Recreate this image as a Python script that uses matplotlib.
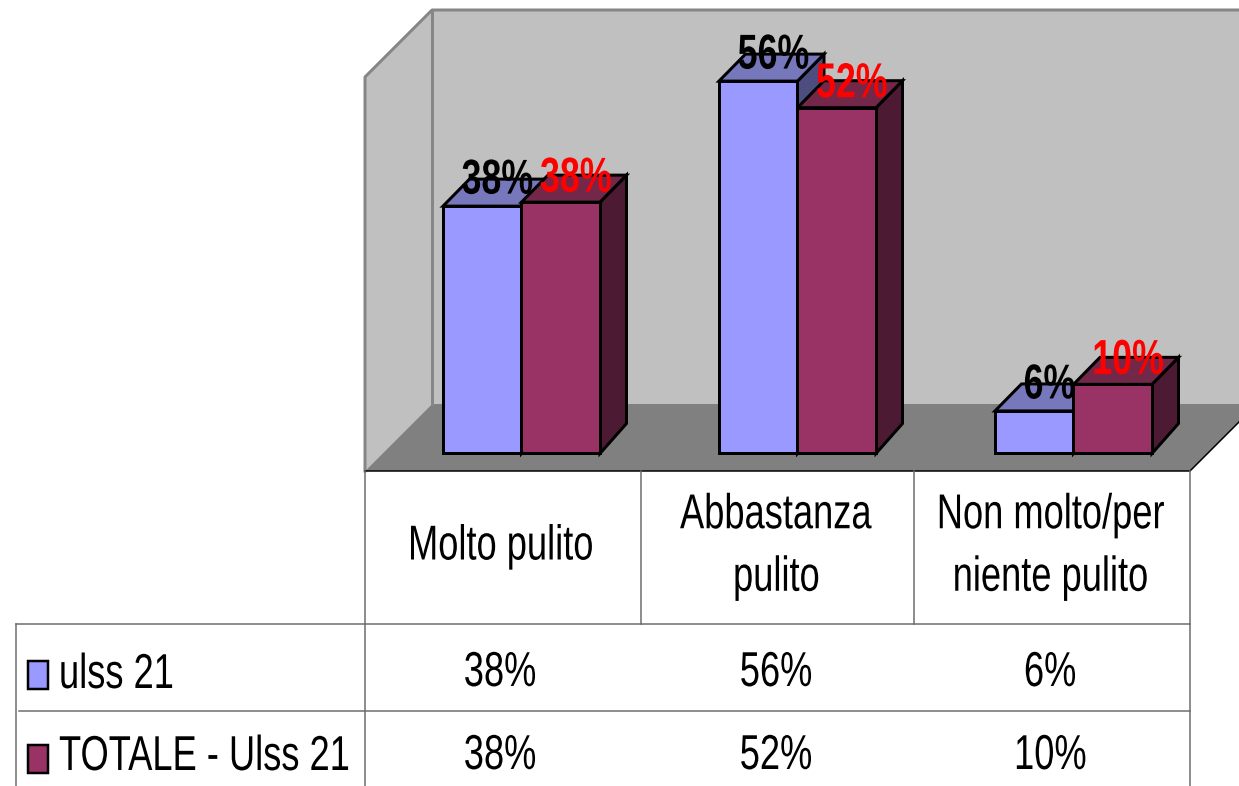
import matplotlib
matplotlib.use("Agg")
import matplotlib.pyplot as plt
from matplotlib.patches import Polygon, Rectangle
from matplotlib.patheffects import AbstractPathEffect
from matplotlib.transforms import Affine2D

categories = ["Molto pulito", "Abbastanza\npulito", "Non molto/per\nniente pulito"]
series_names = ["ulss 21", "TOTALE - Ulss 21"]
ulss21 = [37.2, 56.0, 6.4]
totale = [37.8, 52.0, 10.4]
ulss21_labels = ["38%", "56%", "6%"]
totale_labels = ["38%", "52%", "10%"]

W, H = 1239, 786
plt.rcParams["font.family"] = ["Liberation Sans", "DejaVu Sans"]
PX = 72 / 100  # points per pixel


class Narrow(AbstractPathEffect):
    """Condense a text line horizontally around its left edge or its centre."""
    def __init__(self, sx, centre=True):
        super().__init__()
        self.sx, self.centre = sx, centre

    def draw_path(self, renderer, gc, tpath, affine, rgbFace=None):
        ext = tpath.transformed(affine).get_extents()
        cx = (ext.x0 + ext.x1) / 2 if self.centre else affine.transform([(0, 0)])[0][0]
        squeeze = Affine2D().translate(-cx, 0).scale(self.sx, 1).translate(cx, 0)
        renderer.draw_path(gc, tpath, affine + squeeze, rgbFace)


fig = plt.figure(figsize=(W / 100, H / 100), dpi=100)

# pixel canvas for chart frame and data table
bg = fig.add_axes([0, 0, 1, 1], zorder=0)
bg.set_xlim(0, W); bg.set_ylim(H, 0); bg.axis("off")
bg.add_patch(Polygon([(432, 10), (1239, 10), (1239, 404), (432, 404)], fc="#C0C0C0", ec="none"))
bg.add_patch(Polygon([(365, 77), (432, 10), (432, 404), (365, 471)], fc="#C0C0C0", ec="none"))
bg.add_patch(Polygon([(365, 471), (432, 404), (1239, 404), (1239, 422), (1190, 471)], fc="#808080", ec="none"))
bg.plot([365, 365, 432, 1239], [471, 77, 10, 10], color="#868686", lw=3 * PX)
bg.plot([432, 432], [10, 404], color="#868686", lw=3 * PX)
bg.plot([365, 1190, 1239], [471, 471, 422], color="black", lw=1.5 * PX)

grid = "#6A6A6A"
for x, y0, y1 in [(365, 471, 786), (641, 471, 624), (914, 471, 624), (1190, 471, 786), (16, 624, 786)]:
    bg.plot([x, x], [y0, y1], color=grid, lw=1.5 * PX)
bg.plot([16, 1190], [624, 624], color=grid, lw=1.5 * PX)
bg.plot([19, 1190], [711, 711], color=grid, lw=1.5 * PX)

FS = 49 * PX
SX = 0.74
cell_x = [500, 776, 1050]
for cx, cat in zip(cell_x, categories):
    bg.text(cx, 547, cat, ha="center", va="center", fontsize=FS, linespacing=1.5,
            path_effects=[Narrow(SX)])
for rowy, labels in [(686, ulss21_labels), (769, totale_labels)]:
    for cx, lab in zip(cell_x, labels):
        bg.text(cx, rowy, lab, ha="center", va="baseline", fontsize=FS, path_effects=[Narrow(SX)])
bg.text(59, 688, series_names[0], ha="left", va="baseline", fontsize=FS, path_effects=[Narrow(SX, False)])
bg.text(59, 770, series_names[1], ha="left", va="baseline", fontsize=FS, path_effects=[Narrow(SX, False)])
bg.add_patch(Rectangle((27.5, 661), 20, 28, fc="#9999FF", ec="black", lw=2.5 * PX))
bg.add_patch(Rectangle((27.5, 745), 20, 28, fc="#993366", ec="black", lw=2.5 * PX))

# data axes: full figure, group centres at integer x, value 0 at the bar base
ax = fig.add_axes([0, 0, 1, 1], zorder=1)
PX_X, PX_Y = 276.0, 6.65
ax.set_xlim(-521.5 / PX_X, (W - 521.5) / PX_X)
ax.set_ylim(-(H - 453.5) / PX_Y, 453.5 / PX_Y)
ax.axis("off")
ax.patch.set_alpha(0)

bw = 78.5 / PX_X
dx, dy, dy0 = 26.5 / PX_X, 27 / PX_Y, 30 / PX_Y
edge = dict(edgecolor="black", linewidth=3 * PX, joinstyle="miter")
styles = [("#9999FF", "#7777BB", "#4D4D80", -bw / 2, ulss21, ulss21_labels, "black", 25),
          ("#993366", "#732749", "#4D1A33", bw / 2, totale, totale_labels, "#FF0000", 23)]
for i in range(len(categories)):
    for front, top, side, off, vals, labs, tcol, lift in styles:
        v = vals[i]
        xc = i + off
        l, r = xc - bw / 2, xc + bw / 2
        ax.add_patch(Polygon([(r, 0), (r + dx, dy0), (r + dx, v + dy), (r, v)], fc=side, **edge, zorder=2))
        ax.add_patch(Polygon([(l, v), (l + dx, v + dy), (r + dx, v + dy), (r, v)], fc=top, **edge, zorder=2))
        ax.bar(xc, v, width=bw, color=front, zorder=3, **edge)
for i in range(len(categories)):
    for front, top, side, off, vals, labs, tcol, lift in styles:
        ax.annotate(labs[i], (i + off, vals[i]), xytext=(15, lift), textcoords="offset pixels",
                    ha="center", va="center", fontsize=FS, fontweight="bold", color=tcol, zorder=5,
                    path_effects=[Narrow(0.73)])

fig.savefig("out.png", dpi=100)
